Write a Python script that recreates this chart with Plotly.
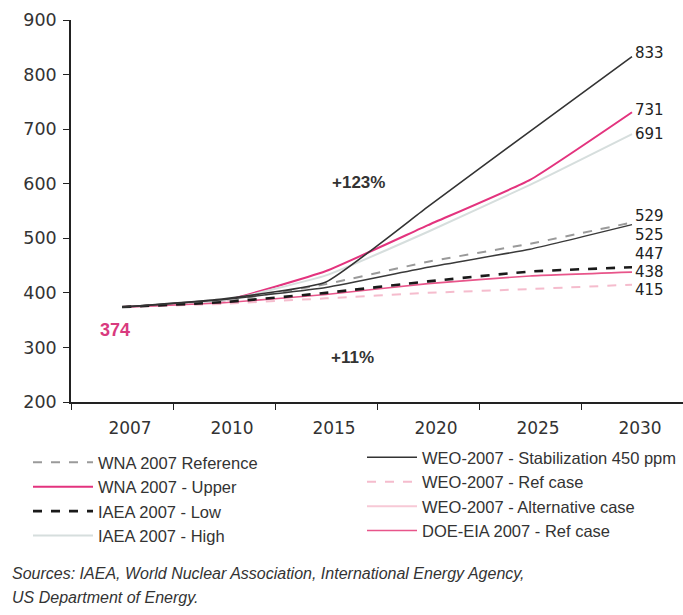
import plotly.graph_objects as go

# ---------------- data ----------------
years = ["2007", "2010", "2015", "2020", "2025", "2030"]

wna_reference = [374, 385, 416, 457, 490, 529]
wna_upper = [374, 386, 440, 524, 607, 731]
iaea_low = [374, 383, 400, 421, 439, 447]
iaea_high = [374, 386, 432, 512, 598, 691]
weo_stabilization = [374, 389, 420, 558, 696, 833]
weo_ref = [374, 380, 390, 400, 407, 415]
weo_alternative = [374, 388, 410, 447, 480, 525]
doe_eia_ref = [374, 382, 397, 417, 431, 438]

start_value = 374
growth_high = "+123%"
growth_low = "+11%"

# ---------------- layout helpers ----------------
W, H = 683, 615
PL, PT, PR, PB = 71, 20, 683, 402


def px_x(px):
    return (px - PL) / (PR - PL)


def px_y(py):
    return (PB - py) / (PB - PT)


LEG_FONT = dict(family="Liberation Sans, Arial, sans-serif", size=16.5, color="#333333")

series = [
    # name, values, color, width, dash, legend
    ("WNA 2007 Reference", wna_reference, "#9a9a9a", 2, "dash", "legend"),
    ("WNA 2007 - Upper", wna_upper, "#e3337e", 2, "solid", "legend"),
    ("IAEA 2007 - High", iaea_high, "#d6dedd", 2, "solid", "legend"),
    ("WEO-2007 - Ref case", weo_ref, "#f5bccd", 2, "dash", "legend2"),
    ("DOE-EIA 2007 - Ref case", doe_eia_ref, "#e8558a", 1.6, "solid", "legend2"),
    ("IAEA 2007 - Low", iaea_low, "#1a1a1a", 2.6, "dash", "legend"),
    ("WEO-2007 - Alternative case", weo_alternative, "#3a3a3a", 1.5, "solid", "legend2"),
    ("WEO-2007 - Stabilization 450 ppm", weo_stabilization, "#333333", 1.6, "solid", "legend2"),
]

legend_rank = {
    "WNA 2007 Reference": 1, "WNA 2007 - Upper": 2, "IAEA 2007 - Low": 3, "IAEA 2007 - High": 4,
    "WEO-2007 - Stabilization 450 ppm": 5, "WEO-2007 - Ref case": 6,
    "WEO-2007 - Alternative case": 7, "DOE-EIA 2007 - Ref case": 8,
}

fig = go.Figure()
for name, vals, color, width, dash, leg in series:
    alt = name == "WEO-2007 - Alternative case"
    fig.add_trace(go.Scatter(
        x=years, y=vals, mode="lines", name=name,
        line=dict(color=color, width=width, dash=dash, shape="spline", smoothing=0.4),
        legend=leg, legendrank=legend_rank[name], legendgroup=name,
        showlegend=not alt, hoverinfo="skip",
    ))
    if alt:
        # legend swatch as in the reference (light pink)
        fig.add_trace(go.Scatter(
            x=[None], y=[None], mode="lines", name=name,
            line=dict(color="#f7c9d6", width=2), legend=leg,
            legendrank=legend_rank[name], legendgroup=name, hoverinfo="skip",
        ))

# end-of-line value labels
end_shift = {
    "WEO-2007 - Stabilization 450 ppm": 4, "WNA 2007 - Upper": 2, "IAEA 2007 - High": 0,
    "WNA 2007 Reference": 6, "WEO-2007 - Alternative case": -10, "IAEA 2007 - Low": 13,
    "DOE-EIA 2007 - Ref case": 0, "WEO-2007 - Ref case": -5,
}
annotations = []
for name, vals, color, width, dash, leg in series:
    annotations.append(dict(
        x=len(years) - 1, y=vals[-1], xref="x", yref="y", text=str(vals[-1]),
        showarrow=False, xanchor="left", yanchor="middle", xshift=1, yshift=end_shift[name],
        font=dict(family="DejaVu Sans, sans-serif", size=15, color="#222222"),
    ))

annotations += [
    dict(x=2.32, y=603, xref="x", yref="y", text="<b>%s</b>" % growth_high, showarrow=False,
         font=dict(family="Liberation Sans, Arial, sans-serif", size=17, color="#333333")),
    dict(x=2.26, y=282, xref="x", yref="y", text="<b>%s</b>" % growth_low, showarrow=False,
         font=dict(family="Liberation Sans, Arial, sans-serif", size=17, color="#333333")),
    dict(x=-0.07, y=332, xref="x", yref="y", text="<b>%d</b>" % start_value, showarrow=False,
         font=dict(family="Liberation Sans, Arial, sans-serif", size=18, color="#d93a7e")),
    dict(x=px_x(10), y=px_y(573), xref="paper", yref="paper", xanchor="left", yanchor="middle",
         text="<i>Sources: IAEA, World Nuclear Association, International Energy Agency,</i>",
         showarrow=False, font=dict(family="Liberation Sans, Arial, sans-serif", size=16, color="#333333")),
    dict(x=px_x(10), y=px_y(597), xref="paper", yref="paper", xanchor="left", yanchor="middle",
         text="<i>US Department of Energy.</i>",
         showarrow=False, font=dict(family="Liberation Sans, Arial, sans-serif", size=16, color="#333333")),
]

fig.update_layout(
    width=W, height=H,
    margin=dict(l=PL, r=W - PR, t=PT, b=H - PB, pad=0),
    paper_bgcolor="white", plot_bgcolor="white",
    annotations=annotations,
    legend=dict(x=px_x(28), y=px_y(445), xanchor="left", yanchor="top",
                font=LEG_FONT, itemwidth=60, bgcolor="rgba(0,0,0,0)", tracegroupgap=0,
                traceorder="normal"),
    legend2=dict(x=px_x(362), y=px_y(440), xanchor="left", yanchor="top",
                 font=LEG_FONT, itemwidth=50, bgcolor="rgba(0,0,0,0)", tracegroupgap=0,
                 traceorder="normal"),
    xaxis=dict(
        type="category", range=[-0.5, len(years) - 0.5], tickson="boundaries",
        ticks="outside", ticklen=6, tickcolor="#222", tickwidth=1.2,
        showline=True, linecolor="#222", linewidth=1.5, showgrid=False,
        tickfont=dict(family="DejaVu Sans, sans-serif", size=17, color="#333333"),
        ticklabelshift=8, ticklabelstandoff=10,
    ),
    yaxis=dict(
        range=[200, 900], dtick=100, ticks="outside", ticklen=6, tickcolor="#222", tickwidth=1.2,
        showline=True, linecolor="#222", linewidth=1.5, showgrid=False, zeroline=False,
        tickfont=dict(family="DejaVu Sans, sans-serif", size=17.5, color="#333333"),
        ticklabelstandoff=3,
    ),
)

fig.write_html(
    "out.html",
    config={"displayModeBar": False},
    post_script="document.body.style.margin='0';document.body.style.padding='0';"
                "document.body.style.overflow='hidden';",
)
